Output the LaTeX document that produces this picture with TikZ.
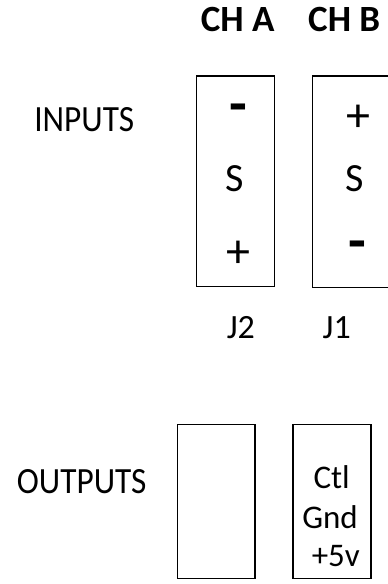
\documentclass[tikz,border=0pt]{standalone}
\usepackage{fontspec}
\setmainfont{Carlito}
\newfontfamily\narrowfont[FakeStretch=0.9]{Carlito}
\begin{document}
\begin{tikzpicture}[x=1pt,y=-1pt,
  box/.style={draw=black,line width=1.5pt,inner sep=0pt,outer sep=0pt,anchor=north west},
  head/.style={font=\bfseries\fontsize{37}{42}\selectfont,anchor=base,inner sep=0pt},
  side/.style={font=\narrowfont\fontsize{37}{44}\selectfont,anchor=base,inner sep=0pt},
  sig/.style={font=\fontsize{40}{46}\selectfont,anchor=center,inner sep=0pt},
  plus/.style={font=\fontsize{48}{54}\selectfont,anchor=center,inner sep=0pt},
  minus/.style={font=\bfseries\fontsize{58}{62}\selectfont,anchor=center,inner sep=0pt},
  jlab/.style={font=\fontsize{34}{40}\selectfont,anchor=base,inner sep=0pt},
  pin/.style={font=\fontsize{33}{38}\selectfont,anchor=base,inner sep=0pt}]
\useasboundingbox (0,0) rectangle (388,584);
\clip (0,0) rectangle (388,584);
\fill[white] (0,0) rectangle (388,584);
% headers
\node[head] (cha) at (237.7,31.7) {CH A};
\node[head] (chb) at (344.2,31.7) {CH B};
% side labels
\node[side] (inputs) at (84.2,131.7) {INPUTS};
\node[side] (outputs) at (81.7,493.3) {OUTPUTS};
% input connectors
\node[box,minimum width=77.6pt,minimum height=210.7pt] (j2box) at (196.7,76) {};
\node[box,minimum width=100pt,minimum height=211.3pt] (j1box) at (312.3,76) {};
\node[minus] (aminus) at (238,114.2) {-};
\node[sig] (as) at (234.7,178.5) {S};
\node[plus] (aplus) at (238.7,254) {+};
\node[plus] (bplus) at (358.3,118.3) {+};
\node[sig] (bs) at (354.7,178.5) {S};
\node[minus] (bminus) at (357.8,250.3) {-};
\node[jlab] (j2) at (240.8,338.3) {J2};
\node[jlab] (j1) at (336.7,338.3) {J1};
% output connectors
\node[box,minimum width=77.7pt,minimum height=154pt] (outa) at (177.3,424.3) {};
\node[box,minimum width=78pt,minimum height=154pt] (outb) at (293,424.3) {};
\node[pin] (ctl) at (331.7,488.3) {Ctl};
\node[pin] (gnd) at (330,528.3) {Gnd};
\node[pin] (pfive) at (335.8,566.7) {+5v};
\end{tikzpicture}
\end{document}
